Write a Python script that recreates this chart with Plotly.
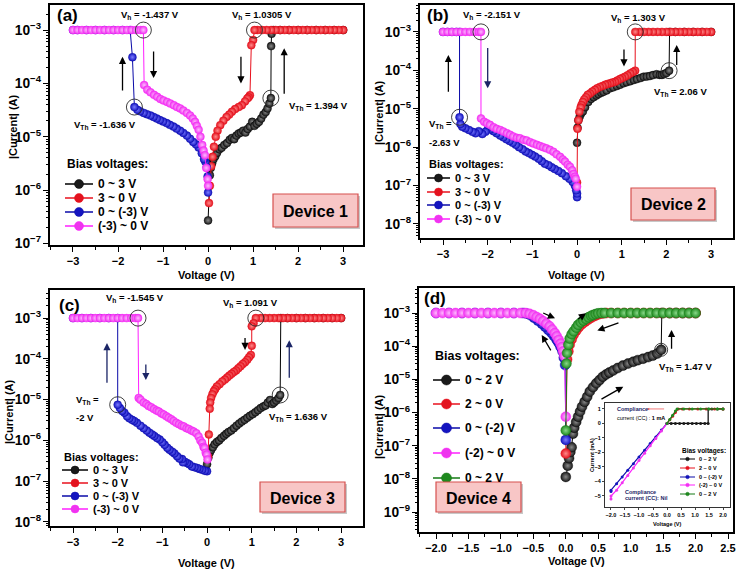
import plotly.graph_objects as go

W, H = 740, 572
FONT = "Arial, 'Liberation Sans', sans-serif"

# ---------------- data: (voltage V, |current| A) ----------------
LABELS_3V = ["0 ~ 3 V", "3 ~ 0 V", "0 ~ (-3) V", "(-3) ~ 0 V"]
LABELS_2V = ["0 ~ 2 V", "2 ~ 0 V", "0 ~ (-2) V", "(-2) ~ 0 V", "0 ~ 2 V"]

# Device 1
d1_up = [(0.00,2.7e-7),(0.02,1.2e-6),(0.04,1.9e-6),(0.06,2.6e-6),(0.09,3.2e-6),(0.12,3.8e-6),(0.16,4.3e-6),
         (0.20,5.0e-6),(0.25,5.8e-6),(0.30,6.2e-6),(0.36,7.0e-6),(0.42,7.6e-6),(0.48,8.8e-6),(0.53,9.5e-6),
         (0.58,9.0e-6),(0.63,1.05e-5),(0.68,1.15e-5),(0.73,1.2e-5),(0.78,1.3e-5),(0.83,1.2e-5),(0.88,1.4e-5),
         (0.93,1.55e-5),(0.98,1.9e-5),(1.03,1.6e-5),(1.08,1.75e-5),(1.13,1.9e-5),(1.18,2.2e-5),(1.23,2.6e-5),
         (1.28,2.9e-5),(1.32,3.4e-5),(1.36,4.2e-5),(1.394,5.3e-5),(1.40,5.0e-4),(1.41,8.5e-4),(1.45,1e-3),
         (1.6,1e-3),(1.8,1e-3),(2.0,1e-3),(2.2,1e-3),(2.4,1e-3),(2.6,1e-3),(2.8,1e-3),(3.0,1e-3)]
d1_down = [(3.0,1e-3),(2.9,1e-3),(2.8,1e-3),(2.7,1e-3),(2.6,1e-3),(2.5,1e-3),(2.4,1e-3),(2.3,1e-3),(2.2,1e-3),
           (2.1,1e-3),(2.0,1e-3),(1.9,1e-3),(1.8,1e-3),(1.7,1e-3),(1.6,1e-3),(1.5,1e-3),(1.4,1e-3),(1.3,1e-3),
           (1.2,1e-3),(1.1,1e-3),(1.0305,1e-3),(1.0,6.5e-4),(0.96,5.2e-4),(0.93,6.0e-5),(0.90,5.5e-5),
           (0.87,5.2e-5),(0.82,4.6e-5),(0.75,3.9e-5),(0.68,3.6e-5),(0.60,3.3e-5),(0.53,2.95e-5),(0.47,2.6e-5),
           (0.41,2.35e-5),(0.34,2.0e-5),(0.27,1.65e-5),(0.21,1.3e-5),(0.17,1.0e-5),(0.13,6.5e-6),(0.10,4.2e-6),
           (0.07,2.8e-6),(0.04,1.2e-6),(0.02,5.7e-7)]
d1_neg = [(0.0,9e-7),(-0.01,1.8e-6),(-0.03,2.7e-6),(-0.06,3.4e-6),(-0.09,3.8e-6),(-0.14,4.9e-6),(-0.21,6.3e-6),
          (-0.27,7.2e-6),(-0.33,8.0e-6),(-0.40,9.2e-6),(-0.47,1.05e-5),(-0.55,1.18e-5),(-0.62,1.3e-5),
          (-0.70,1.42e-5),(-0.77,1.55e-5),(-0.85,1.67e-5),(-0.92,1.8e-5),(-1.0,1.93e-5),(-1.07,2.05e-5),
          (-1.14,2.2e-5),(-1.21,2.35e-5),(-1.28,2.5e-5),(-1.36,2.65e-5),(-1.43,2.8e-5),(-1.51,3.0e-5),
          (-1.57,3.2e-5),(-1.636,3.6e-5),(-1.68,3.1e-4),(-1.73,1e-3),(-1.9,1e-3),(-2.1,1e-3),(-2.3,1e-3),
          (-2.5,1e-3),(-2.7,1e-3),(-2.9,1e-3),(-3.0,1e-3)]
d1_negup = [(-3.0,1e-3),(-2.9,1e-3),(-2.8,1e-3),(-2.7,1e-3),(-2.6,1e-3),(-2.5,1e-3),(-2.4,1e-3),(-2.3,1e-3),
            (-2.2,1e-3),(-2.1,1e-3),(-2.0,1e-3),(-1.9,1e-3),(-1.8,1e-3),(-1.7,1e-3),(-1.6,1e-3),(-1.5,1e-3),
            (-1.437,1e-3),(-1.42,9.3e-5),(-1.35,7.6e-5),(-1.28,6.8e-5),(-1.2,6.1e-5),(-1.13,5.6e-5),
            (-1.06,5.1e-5),(-0.99,4.8e-5),(-0.91,4.5e-5),(-0.84,4.2e-5),(-0.76,3.9e-5),(-0.69,3.6e-5),
            (-0.62,3.4e-5),(-0.55,3.1e-5),(-0.47,2.8e-5),(-0.40,2.5e-5),(-0.34,2.2e-5),(-0.29,1.9e-5),
            (-0.25,1.6e-5),(-0.21,1.35e-5),(-0.17,1.0e-5),(-0.13,7.0e-6),(-0.10,5.5e-6),(-0.07,4.5e-6),
            (-0.04,2.6e-6),(-0.01,1.6e-6),(0.0,1.2e-6)]

# Device 2
d2_up = [(0.0,1.3e-6),(0.01,3.2e-6),(0.03,5.0e-6),(0.06,6.3e-6),(0.09,7.5e-6),(0.13,8.5e-6),(0.18,1.1e-5),
         (0.25,1.5e-5),(0.31,1.8e-5),(0.37,2.0e-5),(0.43,2.2e-5),(0.48,2.4e-5),(0.54,2.6e-5),(0.59,2.75e-5),
         (0.66,3.0e-5),(0.74,3.4e-5),(0.81,3.6e-5),(0.89,3.9e-5),(0.96,4.2e-5),(1.04,4.6e-5),(1.11,4.9e-5),
         (1.19,5.2e-5),(1.27,5.6e-5),(1.34,5.9e-5),(1.42,6.3e-5),(1.49,6.8e-5),(1.56,6.9e-5),(1.63,7.1e-5),
         (1.7,7.5e-5),(1.78,7.9e-5),(1.85,7.6e-5),(1.9,7.6e-5),(1.95,8.0e-5),(2.0,8.5e-5),(2.06,9.8e-5),
         (2.07,1e-3),(2.2,1e-3),(2.4,1e-3),(2.6,1e-3),(2.8,1e-3),(3.0,1e-3)]
d2_down = [(3.0,1e-3),(2.9,1e-3),(2.8,1e-3),(2.7,1e-3),(2.6,1e-3),(2.5,1e-3),(2.4,1e-3),(2.3,1e-3),(2.2,1e-3),
           (2.1,1e-3),(2.0,1e-3),(1.9,1e-3),(1.8,1e-3),(1.7,1e-3),(1.6,1e-3),(1.5,1e-3),(1.4,1e-3),(1.303,1e-3),
           (1.30,9.8e-5),(1.25,9.0e-5),(1.19,8.3e-5),(1.13,7.4e-5),(1.07,6.8e-5),(1.01,6.3e-5),(0.96,5.9e-5),
           (0.90,5.4e-5),(0.85,5.0e-5),(0.79,4.8e-5),(0.74,4.6e-5),(0.68,4.4e-5),(0.63,4.2e-5),(0.57,3.9e-5),
           (0.51,3.7e-5),(0.45,3.4e-5),(0.40,3.1e-5),(0.34,2.8e-5),(0.29,2.5e-5),(0.24,2.3e-5),(0.20,2.0e-5),
           (0.16,1.75e-5),(0.13,1.5e-5),(0.10,1.25e-5),(0.08,1.07e-5),(0.05,8.3e-6),(0.03,5.0e-6),
           (0.01,3.0e-6),(0.0,1.2e-7)]
d2_neg = [(0.0,5.0e-8),(0.0,6.2e-8),(-0.02,7.5e-8),(-0.05,1.0e-7),(-0.10,1.25e-7),(-0.17,1.5e-7),(-0.25,1.75e-7),
          (-0.34,2.1e-7),(-0.42,2.4e-7),(-0.50,2.7e-7),(-0.57,3.0e-7),(-0.64,3.4e-7),(-0.72,3.7e-7),
          (-0.79,4.3e-7),(-0.86,5.0e-7),(-0.94,5.7e-7),(-1.01,6.3e-7),(-1.08,7.0e-7),(-1.15,7.7e-7),
          (-1.22,8.8e-7),(-1.30,1.0e-6),(-1.37,1.15e-6),(-1.44,1.3e-6),(-1.51,1.45e-6),(-1.58,1.6e-6),
          (-1.65,1.8e-6),(-1.72,2.0e-6),(-1.80,2.3e-6),(-1.87,2.6e-6),(-1.94,2.9e-6),(-1.99,3.2e-6),
          (-2.05,2.5e-6),(-2.12,2.2e-6),(-2.20,2.6e-6),(-2.27,2.3e-6),(-2.34,2.5e-6),(-2.42,2.8e-6),
          (-2.50,3.1e-6),(-2.57,3.4e-6),(-2.61,4.0e-6),(-2.63,6.0e-6),(-2.63,1e-3),(-2.7,1e-3),(-2.8,1e-3),
          (-2.9,1e-3),(-3.0,1e-3)]
d2_negup = [(-3.0,1e-3),(-2.9,1e-3),(-2.8,1e-3),(-2.7,1e-3),(-2.6,1e-3),(-2.5,1e-3),(-2.4,1e-3),(-2.3,1e-3),
            (-2.2,1e-3),(-2.151,1e-3),(-2.15,5.6e-6),(-2.08,4.6e-6),(-2.02,4.2e-6),(-1.95,3.8e-6),(-1.87,3.3e-6),
            (-1.80,3.0e-6),(-1.72,2.8e-6),(-1.65,2.55e-6),(-1.57,2.3e-6),(-1.50,2.1e-6),(-1.43,1.9e-6),
            (-1.35,1.75e-6),(-1.28,1.7e-6),(-1.20,1.55e-6),(-1.13,1.5e-6),(-1.05,1.35e-6),(-0.98,1.25e-6),
            (-0.90,1.15e-6),(-0.83,1.07e-6),(-0.76,1.0e-6),(-0.69,9.3e-7),(-0.61,8.5e-7),(-0.53,7.6e-7),
            (-0.46,6.5e-7),(-0.38,5.6e-7),(-0.32,4.8e-7),(-0.27,4.2e-7),(-0.21,3.5e-7),(-0.16,3.1e-7),
            (-0.11,2.5e-7),(-0.08,2.0e-7),(-0.05,1.7e-7),(-0.03,1.5e-7),(0.0,9.3e-8)]

# Device 3
d3_up = [(0.0,2.6e-7),(0.03,3.8e-7),(0.06,5.0e-7),(0.09,5.8e-7),(0.13,6.8e-7),(0.17,8.0e-7),(0.22,9.2e-7),
         (0.27,1.0e-6),(0.32,1.15e-6),(0.38,1.3e-6),(0.43,1.45e-6),(0.48,1.6e-6),(0.54,1.75e-6),(0.60,2.0e-6),
         (0.66,2.3e-6),(0.72,2.6e-6),(0.78,2.9e-6),(0.84,3.2e-6),(0.90,3.6e-6),(0.96,4.0e-6),(1.02,4.4e-6),
         (1.08,4.9e-6),(1.14,5.5e-6),(1.20,6.2e-6),(1.26,6.8e-6),(1.31,7.2e-6),(1.36,8.5e-6),(1.41,9.8e-6),
         (1.46,7.8e-6),(1.50,8.5e-6),(1.55,9.5e-6),(1.60,1.1e-5),(1.636,1.3e-5),(1.65,1e-3),(1.8,1e-3),
         (2.0,1e-3),(2.2,1e-3),(2.4,1e-3),(2.6,1e-3),(2.8,1e-3),(3.0,1e-3)]
d3_down = [(3.0,1e-3),(2.9,1e-3),(2.8,1e-3),(2.7,1e-3),(2.6,1e-3),(2.5,1e-3),(2.4,1e-3),(2.3,1e-3),(2.2,1e-3),
           (2.1,1e-3),(2.0,1e-3),(1.9,1e-3),(1.8,1e-3),(1.7,1e-3),(1.6,1e-3),(1.5,1e-3),(1.4,1e-3),(1.3,1e-3),
           (1.2,1e-3),(1.091,1e-3),(1.04,7.5e-4),(1.0,6.3e-4),(1.0,2.1e-4),(0.98,1.25e-4),(0.94,1.1e-4),
           (0.90,9.5e-5),(0.85,8.3e-5),(0.80,7.5e-5),(0.75,6.6e-5),(0.70,5.9e-5),(0.65,5.2e-5),(0.60,4.8e-5),
           (0.55,4.3e-5),(0.50,3.9e-5),(0.45,3.5e-5),(0.40,3.1e-5),(0.34,2.8e-5),(0.28,2.4e-5),(0.22,2.1e-5),
           (0.18,1.8e-5),(0.15,1.6e-5),(0.12,1.35e-5),(0.09,1.1e-5),(0.07,8.5e-6),(0.06,6.0e-6),(0.04,1.4e-6),
           (0.02,4.0e-7)]
d3_neg = [(0.0,1.75e-7),(-0.05,1.8e-7),(-0.11,1.9e-7),(-0.17,2.0e-7),(-0.22,2.1e-7),(-0.28,2.2e-7),
          (-0.34,2.3e-7),(-0.40,2.6e-7),(-0.45,2.8e-7),(-0.50,3.0e-7),(-0.54,2.9e-7),(-0.56,3.5e-7),
          (-0.62,3.6e-7),(-0.67,4.1e-7),(-0.73,4.8e-7),(-0.78,5.3e-7),(-0.84,5.9e-7),(-0.89,6.6e-7),
          (-0.95,7.8e-7),(-1.0,9.0e-7),(-1.06,1.05e-6),(-1.12,1.15e-6),(-1.18,1.28e-6),(-1.23,1.4e-6),
          (-1.29,1.55e-6),(-1.35,1.75e-6),(-1.42,2.0e-6),(-1.49,2.3e-6),(-1.57,2.7e-6),(-1.63,3.0e-6),
          (-1.68,3.2e-6),(-1.74,3.5e-6),(-1.79,3.9e-6),(-1.85,4.8e-6),(-1.90,5.3e-6),(-1.95,6.2e-6),
          (-2.0,7.5e-6),(-2.0,1e-3),(-2.2,1e-3),(-2.4,1e-3),(-2.6,1e-3),(-2.8,1e-3),(-3.0,1e-3)]
d3_negup = [(-3.0,1e-3),(-2.9,1e-3),(-2.8,1e-3),(-2.7,1e-3),(-2.6,1e-3),(-2.5,1e-3),(-2.4,1e-3),(-2.3,1e-3),
            (-2.2,1e-3),(-2.1,1e-3),(-2.0,1e-3),(-1.9,1e-3),(-1.8,1e-3),(-1.7,1e-3),(-1.6,1e-3),(-1.545,1e-3),
            (-1.53,1.1e-5),(-1.49,1.0e-5),(-1.42,8.5e-6),(-1.36,7.8e-6),(-1.31,7.0e-6),(-1.25,6.5e-6),
            (-1.19,5.9e-6),(-1.13,5.4e-6),(-1.08,5.1e-6),(-1.02,4.6e-6),(-0.97,4.3e-6),(-0.91,3.9e-6),
            (-0.86,3.6e-6),(-0.80,3.3e-6),(-0.75,3.0e-6),(-0.69,2.7e-6),(-0.63,2.5e-6),(-0.57,2.3e-6),
            (-0.52,2.2e-6),(-0.46,2.0e-6),(-0.41,1.9e-6),(-0.35,1.75e-6),(-0.30,1.65e-6),(-0.24,1.5e-6),
            (-0.19,1.25e-6),(-0.15,1.0e-6),(-0.11,8.7e-7),(-0.08,7.0e-7),(-0.06,6.5e-7),(-0.03,5.0e-7),
            (-0.01,4.5e-7),(0.01,3.4e-7)]

# Device 4
d4_up = [(0.0,1.15e-8),(0.03,2.5e-8),(0.05,4.2e-8),(0.07,6.5e-8),(0.09,9e-8),(0.11,2.3e-7),(0.13,3.5e-7),
         (0.16,5.2e-7),(0.19,7.5e-7),(0.22,1.07e-6),(0.25,1.5e-6),(0.29,2.1e-6),(0.33,3.0e-6),(0.37,4.3e-6),
         (0.42,5.8e-6),(0.47,7.6e-6),(0.52,9.5e-6),(0.57,1.2e-5),(0.62,1.4e-5),(0.67,1.6e-5),(0.73,1.85e-5),
         (0.80,2.2e-5),(0.88,2.6e-5),(0.96,3.0e-5),(1.04,3.4e-5),(1.11,3.8e-5),(1.19,4.2e-5),(1.27,4.7e-5),
         (1.34,5.2e-5),(1.41,6.0e-5),(1.47,7.8e-5),(1.48,1e-3),(1.6,1e-3),(1.7,1e-3),(1.8,1e-3),(1.9,1e-3),
         (2.0,1e-3)]
d4_down = [(2.0,1e-3),(1.9,1e-3),(1.8,1e-3),(1.7,1e-3),(1.6,1e-3),(1.5,1e-3),(1.4,1e-3),(1.3,1e-3),(1.2,1e-3),
           (1.1,1e-3),(1.0,1e-3),(0.9,1e-3),(0.8,1e-3),(0.7,1e-3),(0.62,1e-3),(0.56,9.6e-4),(0.50,9.0e-4),
           (0.45,8.2e-4),(0.40,7.3e-4),(0.35,6.4e-4),(0.30,5.5e-4),(0.25,4.6e-4),(0.20,3.7e-4),(0.16,2.9e-4),
           (0.12,2.2e-4),(0.09,1.6e-4),(0.06,1.1e-4),(0.04,7e-5),(0.02,4e-5),(0.0,5.8e-8)]
d4_neg = [(0.0,1.5e-7),(-0.01,2.7e-5),(-0.03,4.5e-5),(-0.05,7.0e-5),(-0.08,9.5e-5),(-0.11,1.25e-4),
          (-0.14,1.55e-4),(-0.18,2.0e-4),(-0.22,2.5e-4),(-0.27,3.1e-4),(-0.32,3.9e-4),(-0.37,4.8e-4),
          (-0.43,5.9e-4),(-0.49,7.2e-4),(-0.55,8.7e-4),(-0.61,9.7e-4),(-0.66,1e-3),(-0.8,1e-3),(-1.0,1e-3),
          (-1.2,1e-3),(-1.4,1e-3),(-1.6,1e-3),(-1.8,1e-3),(-2.0,1e-3)]
d4_negup = [(-2.0,1e-3),(-1.9,1e-3),(-1.8,1e-3),(-1.7,1e-3),(-1.6,1e-3),(-1.5,1e-3),(-1.4,1e-3),(-1.3,1e-3),
            (-1.2,1e-3),(-1.1,1e-3),(-1.0,1e-3),(-0.9,1e-3),(-0.8,1e-3),(-0.7,1e-3),(-0.62,1e-3),(-0.56,9.5e-4),
            (-0.50,8.6e-4),(-0.45,7.6e-4),(-0.40,6.7e-4),(-0.35,5.7e-4),(-0.30,4.8e-4),(-0.25,4.0e-4),
            (-0.21,3.2e-4),(-0.17,2.5e-4),(-0.14,2.0e-4),(-0.11,1.55e-4),(-0.08,1.2e-4),(-0.06,9.5e-5),
            (-0.04,7.0e-5),(-0.02,5.0e-5),(0.0,7.5e-7)]
d4_up2 = [(0.0,2.9e-7),(0.01,3.0e-5),(0.02,6.2e-5),(0.04,1.1e-4),(0.06,1.7e-4),(0.09,2.3e-4),(0.12,2.8e-4),
          (0.16,3.6e-4),(0.19,4.4e-4),(0.23,5.2e-4),(0.27,5.9e-4),(0.31,6.6e-4),(0.35,7.4e-4),(0.39,8.2e-4),
          (0.42,8.7e-4),(0.46,9.3e-4),(0.50,9.8e-4),(0.55,1e-3),(0.6,1e-3),(0.7,1e-3),(0.8,1e-3),(0.9,1e-3),
          (1.0,1e-3),(1.1,1e-3),(1.2,1e-3),(1.3,1e-3),(1.4,1e-3),(1.5,1e-3),(1.6,1e-3),(1.7,1e-3),(1.8,1e-3),
          (1.9,1e-3),(2.0,1e-3)]

# Device 4 inset: (voltage V, current mA), linear scale
in_up = [(0.0,0.0),(0.15,0.0),(0.3,0.0),(0.45,0.0),(0.6,0.0),(0.75,0.0),(0.9,0.0),(1.05,0.0),(1.2,0.0),
         (1.35,0.0),(1.47,0.0),(1.47,1.0),(1.6,1.0),(1.8,1.0),(2.0,1.0)]
in_down = [(2.0,1.0),(1.7,1.0),(1.4,1.0),(1.1,1.0),(0.8,1.0),(0.55,1.0),(0.4,1.0),(0.3,0.75),(0.2,0.5),
           (0.1,0.25),(0.0,0.0)]
in_neg = [(0.0,0.0),(-0.2,-0.46),(-0.4,-0.93),(-0.6,-1.39),(-0.8,-1.85),(-1.0,-2.31),(-1.2,-2.77),
          (-1.4,-3.23),(-1.6,-3.69),(-1.8,-4.15),(-2.0,-4.6),(-2.0,-4.7)]
in_negup = [(-2.0,-5.2),(-2.0,-5.0),(-1.8,-4.6),(-1.6,-4.09),(-1.4,-3.58),(-1.2,-3.07),(-1.0,-2.56),
            (-0.8,-2.05),(-0.6,-1.54),(-0.4,-1.03),(-0.2,-0.52),(0.0,0.0)]
in_up2 = [(0.0,0.0),(0.1,0.28),(0.2,0.57),(0.3,0.86),(0.36,1.0),(0.6,1.0),(0.9,1.0),(1.2,1.0),(1.5,1.0),
          (1.8,1.0),(2.0,1.0)]

# labelled switching points (voltage, current at that point)
d1_points = {"vh_neg": (-1.437, 1e-3), "vh_pos": (1.0305, 1e-3), "vth_neg": (-1.636, 3.6e-5), "vth_pos": (1.394, 5.3e-5)}
d2_points = {"vh_neg": (-2.151, 1e-3), "vh_pos": (1.303, 1e-3), "vth_neg": (-2.63, 6.0e-6), "vth_pos": (2.06, 9.8e-5)}
d3_points = {"vh_neg": (-1.545, 1e-3), "vh_pos": (1.091, 1e-3), "vth_neg": (-2.0, 7.5e-6), "vth_pos": (1.636, 1.3e-5)}
d4_points = {"vth_pos": (1.47, 7.8e-5)}

# sweep-direction arrows: (tail V, tail log10 I, head V, head log10 I)
d1_arrows = [(-1.90, -4.16, -1.90, -3.5), (-1.21, -3.375, -1.21, -3.9), (0.73, -3.47, 0.73, -4.0),
             (1.69, -4.22, 1.69, -3.34)]
d2_arrows = [(-2.88, -4.6, -2.88, -3.6), (-2.0, -3.38, -2.0, -4.47), (1.05, -3.42, 1.05, -3.9),
             (2.23, -3.9, 2.23, -3.34)]
d3_arrows = [(-2.24, -4.62, -2.24, -3.61), (-1.37, -4.1, -1.37, -4.52), (0.85, -3.45, 0.85, -3.78),
             (1.84, -4.5, 1.84, -3.54)]
d4_arrows = [(1.63, -4.12, 1.63, -3.51), (0.168, -3.21, 0.311, -3.01), (0.835, -3.28, 0.486, -3.53),
             (-0.371, -2.98, -0.166, -3.16), (-0.217, -4.17, -0.371, -3.66), (0.527, -5.62, 0.886, -5.22)]
inset_arrow = [(-0.05, 1.0, -0.72, 1.0)]

# ---------------- styles ----------------
STY = [
    dict(line="#000000", base="#1a1a1a", hl="#8a8a8a"),
    dict(line="#e8101c", base="#e3121e", hl="#ff8a8a"),
    dict(line="#0a0aa8", base="#1414c0", hl="#7c7cff"),
    dict(line="#ff1fff", base="#ee35ee", hl="#ffb8ff"),
    dict(line="#157a15", base="#1f8a1f", hl="#88d888"),
]
NAVY = "#1b2566"

fig = go.Figure()
shapes, annotations = [], []


def px_x(p):
    return p / W


def px_y(p):
    return 1 - p / H


def ax_ids(n):
    return ("x", "y") if n == 1 else (f"x{n}", f"y{n}")


def add_series(pts, n, st, size, name, lw=1.0, edge=0.4, grad=True):
    xs, ys = zip(*pts)
    xa, ya = ax_ids(n)
    mk = dict(size=size, color=st["base"], line=dict(width=edge, color=st["line"]))
    if grad:
        mk["gradient"] = dict(type="radial", color=st["hl"])
    fig.add_trace(go.Scatter(
        x=list(xs), y=list(ys), xaxis=xa, yaxis=ya, mode="lines+markers", name=name,
        line=dict(color=st["line"], width=lw), marker=mk, showlegend=False, hoverinfo="skip"))


def rings(n, pts, size=16):
    xa, ya = ax_ids(n)
    fig.add_trace(go.Scatter(
        x=[p[0] for p in pts], y=[p[1] for p in pts], xaxis=xa, yaxis=ya, mode="markers",
        marker=dict(symbol="circle-open", size=size, color="#2a2a2a", line=dict(width=0.9, color="#2a2a2a")),
        showlegend=False, hoverinfo="skip"))


def arrows(n, items, colors, size=1.1, width=1.3):
    xa, ya = ax_ids(n)
    for (xt, yt, xh, yh), c in zip(items, colors):
        annotations.append(dict(xref=xa, yref=ya, axref=xa, ayref=ya, x=xh, y=yh, ax=xt, ay=yt, text="",
                                showarrow=True, arrowhead=2, arrowsize=size, arrowwidth=width, arrowcolor=c))


def text(xp, yp, s, size, xanchor="center", yanchor="middle", color="black", bold=True, angle=0):
    annotations.append(dict(x=px_x(xp), y=px_y(yp), xref="paper", yref="paper", text=s, showarrow=False,
                            xanchor=xanchor, yanchor=yanchor, textangle=angle,
                            font=dict(size=size, color=color, family=FONT, weight="bold" if bold else "normal")))


def legend(x0, x1, ytitle, rows, labels, styles, fsize, msize, gap=3, lw=1.5, tsize=None):
    text(x0, ytitle, "Bias voltages:", tsize or fsize, xanchor="left")
    for y, lab, st in zip(rows, labels, styles):
        shapes.append(dict(type="line", xref="paper", yref="paper", x0=px_x(x0), x1=px_x(x1),
                           y0=px_y(y), y1=px_y(y), line=dict(color=st["line"], width=lw)))
        shapes.append(dict(type="circle", xref="paper", yref="paper", xsizemode="pixel", ysizemode="pixel",
                           xanchor=px_x((x0 + x1) / 2), yanchor=px_y(y), x0=-msize / 2, x1=msize / 2,
                           y0=-msize / 2, y1=msize / 2, fillcolor=st["base"],
                           line=dict(color=st["line"], width=0.5)))
        text(x1 + gap, y, lab, fsize, xanchor="left")


def device_box(x0, y0, x1, y1, label):
    shapes.append(dict(type="rect", xref="paper", yref="paper", x0=px_x(x0 + 2), x1=px_x(x1 + 2),
                       y0=px_y(y1 + 2), y1=px_y(y0 + 2), fillcolor="#c8c8c8", line=dict(width=0)))
    shapes.append(dict(type="rect", xref="paper", yref="paper", x0=px_x(x0), x1=px_x(x1),
                       y0=px_y(y1), y1=px_y(y0), fillcolor="#f8c6c6", line=dict(color="#d6504f", width=1.2)))
    text((x0 + x1) / 2, (y0 + y1) / 2 + 1, label, 16)


def fmt(v):
    return f"{v:g}"


# ---------------- traces ----------------
for pts, st in zip([d1_up, d1_down, d1_neg, d1_negup], STY):
    add_series(pts, 1, st, 8, "Device 1")
for pts, st in zip([d2_up, d2_down, d2_neg, d2_negup], STY):
    add_series(pts, 2, st, 8, "Device 2")
for pts, st in zip([d3_up, d3_down, d3_neg, d3_negup], STY):
    add_series(pts, 3, st, 8, "Device 3")
for pts, st in zip([d4_up, d4_down, d4_neg, d4_negup, d4_up2], STY):
    add_series(pts, 4, st, 10, "Device 4")
for pts, st in zip([in_up, in_down, in_neg, in_negup, in_up2], STY):
    add_series(pts, 5, st, 3, "Inset", lw=1.2, edge=0, grad=False)

rings(1, list(d1_points.values()))
rings(2, list(d2_points.values()))
rings(3, list(d3_points.values()))
rings(4, list(d4_points.values()), size=13)

arrows(1, d1_arrows, ["black"] * 4)
arrows(2, d2_arrows, ["black", NAVY, "black", "black"])
arrows(3, d3_arrows, [NAVY, NAVY, "black", NAVY])
arrows(4, d4_arrows, ["black"] * 6)
arrows(5, inset_arrow, ["#f05a5a"], size=0.6, width=0.8)

# ---------------- axes ----------------
PANELS = {
    1: dict(x=(50, 363), y=(5, 245), xr=[-3.51, 3.44], yr=[-7.03, -2.53]),
    2: dict(x=(420, 733), y=(5, 238), xr=[-3.515, 3.49], yr=[-8.365, -2.30]),
    3: dict(x=(50, 363), y=(290, 526), xr=[-3.515, 3.49], yr=[-8.1, -2.31]),
    4: dict(x=(419, 733), y=(288, 532), xr=[-2.262, 2.577], yr=[-9.6, -2.246]),
}
tickfont = dict(family=FONT, size=11, color="black", weight="bold")
common = dict(showline=True, linecolor="black", linewidth=1.5, mirror=True, ticks="outside", ticklen=5,
              tickwidth=1.2, tickcolor="black", showgrid=False, zeroline=False, automargin=False,
              tickfont=tickfont)
axes = {}
for n, p in PANELS.items():
    xk = "xaxis" if n == 1 else f"xaxis{n}"
    yk = "yaxis" if n == 1 else f"yaxis{n}"
    xdt, mdt = (1, 0.5) if n < 4 else (0.5, 0.25)
    axes[xk] = dict(common, domain=[px_x(p["x"][0]), px_x(p["x"][1])], range=p["xr"], dtick=xdt, tick0=0,
                    tickformat="" if n < 4 else ".1f",
                    minor=dict(ticks="outside", ticklen=3, dtick=mdt, tickcolor="black", tickwidth=1),
                    anchor="y" if n == 1 else f"y{n}")
    axes[yk] = dict(common, domain=[px_y(p["y"][1]), px_y(p["y"][0])], type="log", range=p["yr"], dtick=1,
                    exponentformat="power",
                    minor=dict(ticks="outside", ticklen=2.5, dtick="D1", tickcolor="black", tickwidth=1),
                    anchor="x" if n == 1 else f"x{n}")

inset_font = dict(family=FONT, size=5.5, color="black", weight="bold")
axes["xaxis5"] = dict(showline=True, linecolor="#333333", linewidth=1, mirror=True, ticks="outside", ticklen=2,
                      tickwidth=0.8, showgrid=False, zeroline=False, automargin=False, tickangle=0,
                      domain=[px_x(605), px_x(730)], range=[-2.214, 2.25], dtick=0.5, tick0=0,
                      tickformat=".1f", tickfont=inset_font, anchor="y5")
axes["yaxis5"] = dict(showline=True, linecolor="#333333", linewidth=1, mirror=True, ticks="outside", ticklen=2,
                      tickwidth=0.8, showgrid=False, zeroline=False, automargin=False,
                      domain=[px_y(507), px_y(403)], range=[-5.76, 1.41], dtick=1, tickfont=inset_font,
                      anchor="x5")

# inset crosshair
shapes.append(dict(type="line", xref="x5", yref="y5 domain", x0=0, x1=0, y0=0, y1=1,
                   line=dict(color="#8a8a8a", width=0.8), layer="below"))
shapes.append(dict(type="line", xref="x5 domain", yref="y5", x0=0, x1=1, y0=0, y1=0,
                   line=dict(color="#8a8a8a", width=0.8), layer="below"))

# ---------------- axis titles ----------------
for (tx, ty), (vx, vy) in [((206, 275), (13, 127)), ((576, 275), (379, 113)),
                           ((206, 563), (9, 412)), ((576, 561), (379, 427))]:
    text(tx, ty, "Voltage (V)", 11)
    text(vx, vy, "|Current| (A)", 11, angle=-90)
text(667, 524, "Voltage (V)", 5.5)
text(592, 455, "Current (mA)", 5.5, angle=-90)

# ---------------- panel (a) ----------------
text(55, 15, "(a)", 17, xanchor="left")
text(150, 15, f"V<sub>h</sub> = {fmt(d1_points['vh_neg'][0])} V", 9.5)
text(262, 15, f"V<sub>h</sub> = {fmt(d1_points['vh_pos'][0])} V", 9.5)
text(105, 125, f"V<sub>Th</sub> = {fmt(d1_points['vth_neg'][0])} V", 9.5)
text(318, 106, f"V<sub>Th</sub> = {fmt(d1_points['vth_pos'][0])} V", 9.5)
legend(65, 93, 164, [184, 198, 212, 226], LABELS_3V, STY, 12, 9)
device_box(273, 194, 358, 227, "Device 1")

# ---------------- panel (b) ----------------
text(425, 15, "(b)", 17, xanchor="left")
text(492, 15, f"V<sub>h</sub> = {fmt(d2_points['vh_neg'][0])} V", 9.5)
text(638, 18, f"V<sub>h</sub> = {fmt(d2_points['vh_pos'][0])} V", 9.5)
text(680, 92, f"V<sub>Th</sub> = {fmt(d2_points['vth_pos'][0])} V", 9.5)
text(427, 124, "V<sub>Th</sub> =", 9.5, xanchor="left")
text(427, 142, f"{fmt(d2_points['vth_neg'][0])} V", 9.5, xanchor="left")
legend(427, 450, 164, [178, 192, 205, 219], LABELS_3V, STY, 11, 8)
device_box(631, 188, 715, 220, "Device 2")

# ---------------- panel (c) ----------------
text(57, 305, "(c)", 17, xanchor="left")
text(135, 298, f"V<sub>h</sub> = {fmt(d3_points['vh_neg'][0])} V", 9.5)
text(250, 303, f"V<sub>h</sub> = {fmt(d3_points['vh_pos'][0])} V", 9.5)
text(74, 400, "V<sub>Th</sub> =", 9.5, xanchor="left")
text(74, 417, f"{fmt(d3_points['vth_neg'][0])} V", 9.5, xanchor="left")
text(298, 417, f"V<sub>Th</sub> = {fmt(d3_points['vth_pos'][0])} V", 9.5)
legend(62, 88, 457, [470, 483, 496, 509], LABELS_3V, STY, 11, 8)
device_box(260, 482, 345, 512, "Device 3")

# ---------------- panel (d) ----------------
text(422, 298, "(d)", 17, xanchor="left")
text(685, 367, f"V<sub>Th</sub> = {fmt(d4_points['vth_pos'][0])} V", 9.5)
legend(433, 460, 356, [380, 404, 428, 453, 478], LABELS_2V, STY, 12, 10, tsize=12.5)
device_box(436, 482, 521, 512, "Device 4")

# inset annotations
text(615, 409, "Compliance", 5.5, xanchor="left", color=NAVY)
text(615, 418, "current (CC) : <b>1 mA</b>", 5.5, xanchor="left", bold=False)
text(623, 492, "Compliance", 5.5, xanchor="left", color=NAVY)
text(623, 498, "current (CC): Nil", 5.5, xanchor="left", color=NAVY)
legend(680, 695, 451, [459, 468, 477, 485, 494], LABELS_2V, STY, 5.5, 3.5, gap=2, lw=1, tsize=6.5)

fig.update_layout(
    width=W, height=H, margin=dict(l=0, r=0, t=0, b=0),
    paper_bgcolor="white", plot_bgcolor="white", showlegend=False,
    shapes=shapes, annotations=annotations, **axes)

fig.write_html("out.html")
